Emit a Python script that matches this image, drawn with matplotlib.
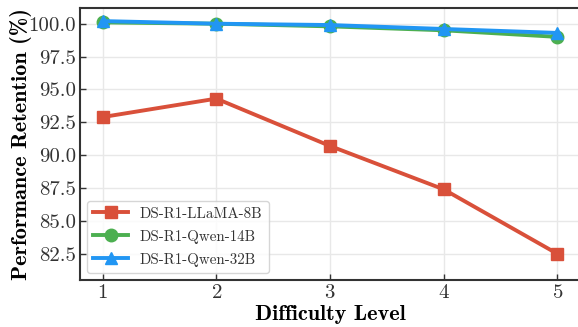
import matplotlib
matplotlib.use("Agg")
import matplotlib.pyplot as plt

plt.rcParams.update({
    "font.family": "cmr10",
    "mathtext.fontset": "cm",
    "axes.unicode_minus": False,
    "axes.formatter.use_mathtext": True,
    "xtick.direction": "in",
    "ytick.direction": "in",
    "axes.edgecolor": "#333333",
})

levels = [1, 2, 3, 4, 5]
llama_8b = [92.9, 94.3, 90.7, 87.4, 82.5]
qwen_14b = [100.1, 100.0, 99.8, 99.5, 99.0]
qwen_32b = [100.2, 100.0, 99.9, 99.6, 99.3]
yticks = [82.5, 85.0, 87.5, 90.0, 92.5, 95.0, 97.5, 100.0]

fig = plt.figure(figsize=(5.78, 3.27), dpi=100)
ax = fig.add_axes([0.1384, 0.1437, 0.865, 0.832])

ax.plot(levels, llama_8b, marker="s", color="#d9503a", lw=2.8, ms=9,
        label="DS-R1-LLaMA-8B")
ax.plot(levels, qwen_14b, marker="o", color="#4caf50", lw=2.8, ms=9,
        label="DS-R1-Qwen-14B")
ax.plot(levels, qwen_32b, marker="^", color="#2196f3", lw=2.8, ms=9,
        label="DS-R1-Qwen-32B")

ax.set_xlim(0.8, 5.2)
ax.set_ylim(80.5, 101.2)
ax.set_xticks(levels)
ax.set_yticks(yticks)
ax.set_yticklabels([f"{v:.1f}" for v in yticks])
ax.tick_params(labelsize=15, colors="#333333", width=1, length=4, pad=3)
ax.grid(True, color="#e8e8e8", lw=1)
ax.set_axisbelow(True)
for s in ax.spines.values():
    s.set_linewidth(1.5)

ax.set_xlabel("Difficulty Level", fontsize=16, family="cmb10", labelpad=2)
ax.set_ylabel("Performance Retention (%)", fontsize=16, family="cmb10",
              labelpad=-3)

leg = ax.legend(loc="lower left", fontsize=10.8, frameon=True,
                labelspacing=0.6, handlelength=2.3)
leg.get_frame().set_edgecolor("#cccccc")
for t in leg.get_texts():
    t.set_color("#333333")

fig.savefig("out.png", dpi=100)
